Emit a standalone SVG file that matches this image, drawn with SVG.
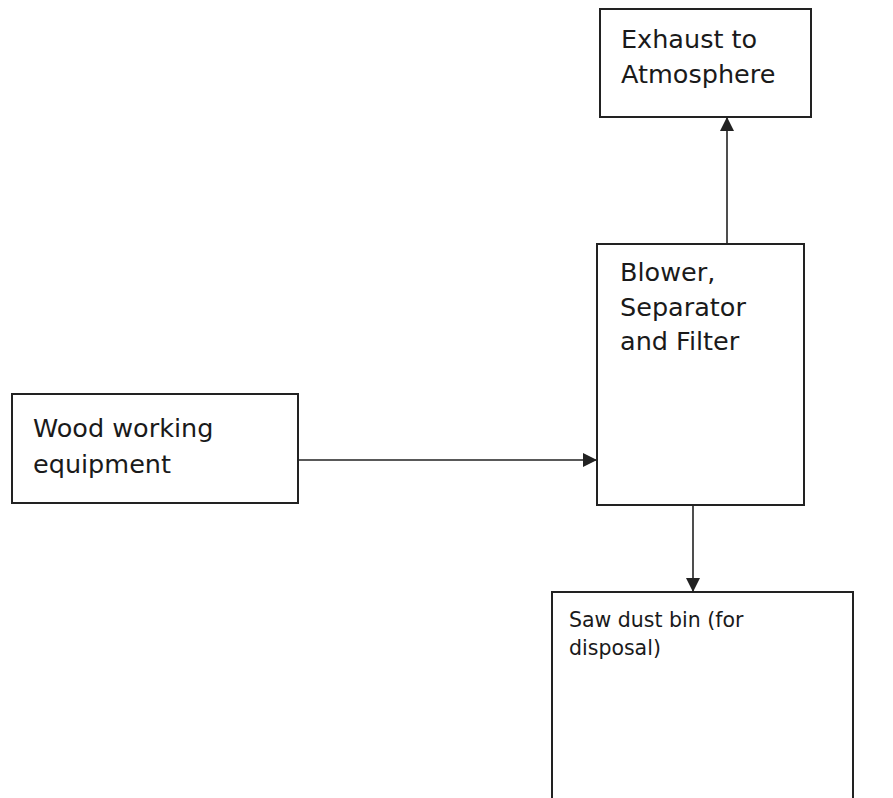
<svg xmlns="http://www.w3.org/2000/svg" width="893" height="798" viewBox="0 0 893 798">
<style>
.box{fill:#fff;stroke:#222;stroke-width:2}
.t{font-family:"DejaVu Sans","Liberation Sans",sans-serif;font-size:25.5px;fill:#1a1a1a}
.s{font-family:"DejaVu Sans","Liberation Sans",sans-serif;font-size:20.5px;fill:#1a1a1a}
.c{stroke:#222;stroke-width:1.6;fill:none}
</style>
<defs>
<marker id="ah" markerWidth="14" markerHeight="14" refX="13" refY="7" orient="auto" markerUnits="userSpaceOnUse" viewBox="0 0 14 14">
<path d="M0,0 L14,7 L0,14 z" fill="#222"/>
</marker>
</defs>
<rect width="893" height="798" fill="#fff"/>
<g id="exhaust">
<rect class="box" x="600" y="9" width="211" height="108"/>
<text class="t" x="621" y="48">Exhaust to</text>
<text class="t" x="621" y="83">Atmosphere</text>
</g>
<g id="blower">
<rect class="box" x="597" y="244" width="207" height="261"/>
<text class="t" x="620" y="281">Blower,</text>
<text class="t" x="620" y="316">Separator</text>
<text class="t" x="620" y="350">and Filter</text>
</g>
<g id="wood">
<rect class="box" x="12" y="394" width="286" height="109"/>
<text class="t" x="33" y="437">Wood working</text>
<text class="t" x="33" y="473">equipment</text>
</g>
<g id="bin">
<rect class="box" x="552" y="592" width="301" height="210"/>
<text class="s" x="569" y="627">Saw dust bin (for</text>
<text class="s" x="569" y="655">disposal)</text>
</g>
<g id="connectors">
<path class="c" d="M727,244 V118" marker-end="url(#ah)"/>
<path class="c" d="M298,460 H596" marker-end="url(#ah)"/>
<path class="c" d="M693,505 V591" marker-end="url(#ah)"/>
</g>
</svg>
